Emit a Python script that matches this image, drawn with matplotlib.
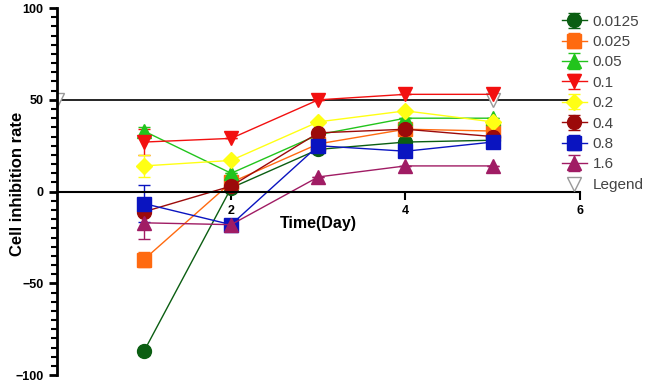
import matplotlib
matplotlib.use("Agg")
import matplotlib.pyplot as plt
import numpy as np

plt.rcParams['font.family'] = ['Liberation Sans', 'DejaVu Sans']

days = [1, 2, 3, 4, 5]

labels = ['0.0125', '0.025', '0.05', '0.1', '0.2', '0.4', '0.8', '1.6']
rate_00125 = [-87, 2, 23, 27, 28]
rate_0025 = [-37, 5, 26, 34, 33]
rate_005 = [33, 10, 31, 40, 40]
rate_01 = [27, 29, 50, 53, 53]
rate_02 = [14, 17, 38, 44, 38]
rate_04 = [-11, 3, 32, 34, 30]
rate_08 = [-6.5, -18, 25, 22, 27]
rate_16 = [-17, -18, 8, 14, 14]

# error bars (only visible on day 1)
err_00125 = [2, 0, 0, 0, 0]
err_0025 = [4, 0, 0, 0, 0]
err_005 = [2, 0, 0, 0, 0]
err_01 = [7, 0, 0, 0, 0]
err_02 = [6, 0, 0, 0, 0]
err_04 = [2, 0, 0, 0, 0]
err_08 = [10, 0, 0, 0, 0]
err_16 = [9, 0, 0, 0, 0]

ref_x = [0, 5]
ref_y = [50, 50]

series = [rate_00125, rate_0025, rate_005, rate_01, rate_02, rate_04, rate_08, rate_16]
errors = [err_00125, err_0025, err_005, err_01, err_02, err_04, err_08, err_16]
colors = ['#0b5e12', '#ff6a10', '#22c41c', '#f21010', '#ffff14', '#9c0a0a', '#0a14c0', '#a01c64']
markers = ['o', 's', '^', 'v', 'D', 'o', 's', '^']
sizes = [10, 10, 10, 10, 8, 10, 10, 10]

fig = plt.figure(figsize=(6.45, 3.84), dpi=100)
ax = fig.add_axes([0.088, 0.023, 0.811, 0.956])

handles = []
for vals, err, c, m, s, lab in zip(series, errors, colors, markers, sizes, labels):
    h = ax.errorbar(days, vals, yerr=err, color=c, marker=m, markersize=s, lw=1,
                    capsize=4, elinewidth=1, label=lab)
    handles.append(h)

ax.plot([0, 6], [50, 50], color='black', lw=1.2, zorder=1)
h_ref, = ax.plot(ref_x, ref_y, ls='none', marker='v', markersize=10,
                 markerfacecolor='white', markeredgecolor='#999999', label='Legend', zorder=2)
handles.append(h_ref)

ax.set_xlim(0, 6)
ax.set_ylim(-100, 100)

ax.spines['right'].set_visible(False)
ax.spines['top'].set_visible(False)
ax.spines['bottom'].set_position(('data', 0))
ax.spines['left'].set_linewidth(2)
ax.spines['bottom'].set_linewidth(1.5)

ax.set_xticks([2, 4, 6])
ax.set_yticks([-100, -50, 0, 50, 100])
ax.set_yticks(np.arange(-100, 101, 5), minor=True)
ax.tick_params(axis='y', which='major', length=6, width=2)
ax.tick_params(axis='y', which='minor', length=4, width=1.5)
ax.tick_params(axis='x', which='major', length=6, width=1.5)
for t in ax.get_xticklabels() + ax.get_yticklabels():
    t.set_fontweight('bold')
    t.set_fontsize(9)

ax.text(3, -17.5, 'Time(Day)', ha='center', va='center', fontsize=11.5, fontweight='bold')
ax.set_ylabel('Cell inhibition rate', fontsize=12, fontweight='bold')
ax.yaxis.set_label_coords(-0.06, 0.52)

leg = fig.legend(handles=handles, labels=labels + ['Legend'], loc='upper left',
                 bbox_to_anchor=(0.855, 0.99), frameon=False, borderpad=0.2,
                 fontsize=11, labelspacing=0.42, handlelength=1.6, handletextpad=0.4)
for t in leg.get_texts():
    t.set_color('#444444')

fig.savefig('out.png', dpi=100)
